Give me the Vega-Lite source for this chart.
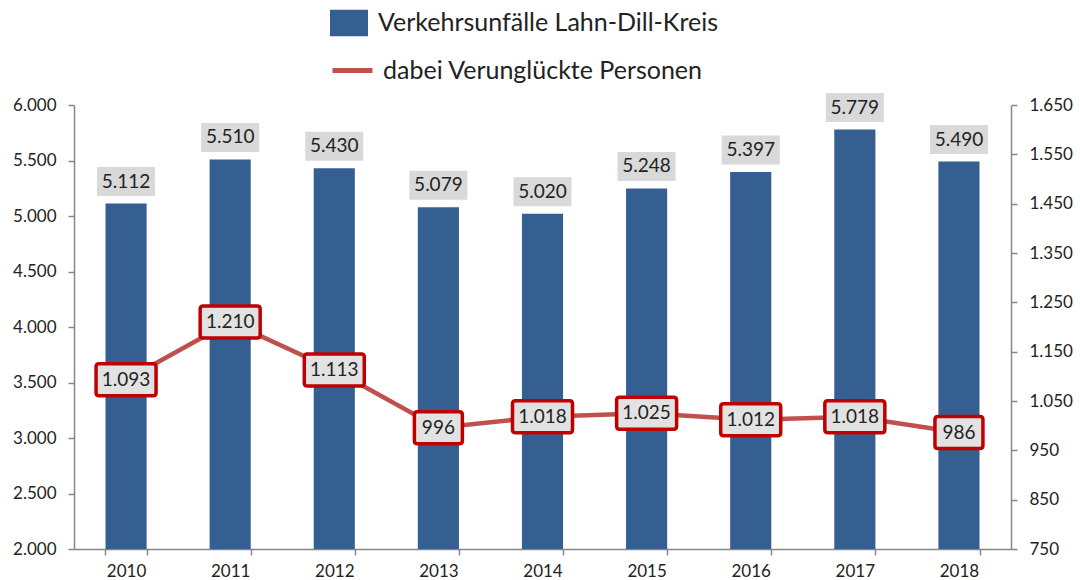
{
  "$schema": "https://vega.github.io/schema/vega-lite/v6.json",
  "width": 937,
  "height": 444,
  "autosize": {"type": "none"},
  "padding": {"left": 74, "top": 105, "right": 69, "bottom": 31},
  "background": "white",
  "config": {
    "locale": {"number": {"decimal": ",", "thousands": ".", "grouping": [3], "currency": ["", " €"]}},
    "view": {"stroke": null},
    "font": "Lato",
    "axis": {"grid": false, "domainColor": "#868686", "tickColor": "#868686", "labelColor": "#222222", "labelFont": "Lato", "labelFontSize": 17, "title": null, "domainWidth": 1.5, "tickWidth": 1.5, "tickSize": 6},
    "legend": {"labelFont": "Lato", "labelFontSize": 25, "labelColor": "#222222", "padding": 0, "labelOffset": 10, "title": null, "labelLimit": 0}
  },
  "data": {
    "values": [
      {"year": "2010", "accidents": 5112, "persons": 1093},
      {"year": "2011", "accidents": 5510, "persons": 1210},
      {"year": "2012", "accidents": 5430, "persons": 1113},
      {"year": "2013", "accidents": 5079, "persons": 996},
      {"year": "2014", "accidents": 5020, "persons": 1018},
      {"year": "2015", "accidents": 5248, "persons": 1025},
      {"year": "2016", "accidents": 5397, "persons": 1012},
      {"year": "2017", "accidents": 5779, "persons": 1018},
      {"year": "2018", "accidents": 5490, "persons": 986}
    ]
  },
  "layer": [
    {
      "encoding": {
        "x": {"field": "year", "type": "ordinal", "scale": {"paddingInner": 0.605, "paddingOuter": 0.3025}, "axis": {"labelAngle": 0, "tickBand": "extent", "labelPadding": 8, "labelFontSize": 17}},
        "y": {"field": "accidents", "type": "quantitative", "scale": {"domain": [2000, 6000], "zero": false, "nice": false}, "axis": {"orient": "left", "values": [2000, 2500, 3000, 3500, 4000, 4500, 5000, 5500, 6000], "format": ",d", "labelPadding": 12}}
      },
      "layer": [
        {
          "mark": {"type": "bar"},
          "encoding": {
            "y2": {"datum": 2000},
            "color": {"datum": "Verkehrsunfälle Lahn-Dill-Kreis", "scale": {"range": ["#365f91"]}, "legend": {"orient": "none", "legendX": 256, "legendY": -101, "symbolType": "M-1,-0.7L1,-0.7L1,0.7L-1,0.7Z", "symbolSize": 1444, "symbolStrokeWidth": 0}}
          }
        },
        {
          "mark": {"type": "point", "filled": true, "shape": "M-1,-0.5L1,-0.5L1,0.5L-1,0.5Z", "size": 3364, "color": "#d9d9d9", "opacity": 1, "yOffset": -22}
        },
        {
          "mark": {"type": "text", "yOffset": -22, "fontSize": 19, "color": "#222222", "font": "Lato"},
          "encoding": {"text": {"field": "accidents", "type": "quantitative", "format": ",d"}}
        }
      ]
    },
    {
      "encoding": {
        "x": {"field": "year", "type": "ordinal"},
        "y": {"field": "persons", "type": "quantitative", "scale": {"domain": [750, 1650], "zero": false, "nice": false}, "axis": {"orient": "right", "values": [750, 850, 950, 1050, 1150, 1250, 1350, 1450, 1550, 1650], "format": ",d", "labelPadding": 12}}
      },
      "layer": [
        {
          "mark": {"type": "line", "strokeWidth": 4.5},
          "encoding": {
            "stroke": {"datum": "dabei Verunglückte Personen", "scale": {"range": ["#c0504d"]}, "legend": {"orient": "none", "legendX": 256, "legendY": -57, "symbolType": "stroke", "symbolSize": 1600, "symbolStrokeWidth": 5, "labelOffset": 8}}
          }
        },
        {
          "mark": {"type": "point", "filled": true, "size": 3600, "fill": "#e2e2e2", "stroke": "#c00000", "strokeWidth": 3.5, "opacity": 1},
          "encoding": {
            "shape": {
              "condition": {"test": "datum.persons < 1000", "value": "M-0.7,-0.533L0.7,-0.533Q0.8,-0.533 0.8,-0.433L0.8,0.433Q0.8,0.533 0.7,0.533L-0.7,0.533Q-0.8,0.533 -0.8,0.433L-0.8,-0.433Q-0.8,-0.533 -0.7,-0.533Z"},
              "value": "M-0.9,-0.533L0.9,-0.533Q1,-0.533 1,-0.433L1,0.433Q1,0.533 0.9,0.533L-0.9,0.533Q-1,0.533 -1,0.433L-1,-0.433Q-1,-0.533 -0.9,-0.533Z"
            }
          }
        },
        {
          "mark": {"type": "text", "fontSize": 19, "color": "#222222", "font": "Lato"},
          "encoding": {"text": {"field": "persons", "type": "quantitative", "format": ",d"}}
        }
      ]
    }
  ],
  "resolve": {"scale": {"y": "independent"}}
}
